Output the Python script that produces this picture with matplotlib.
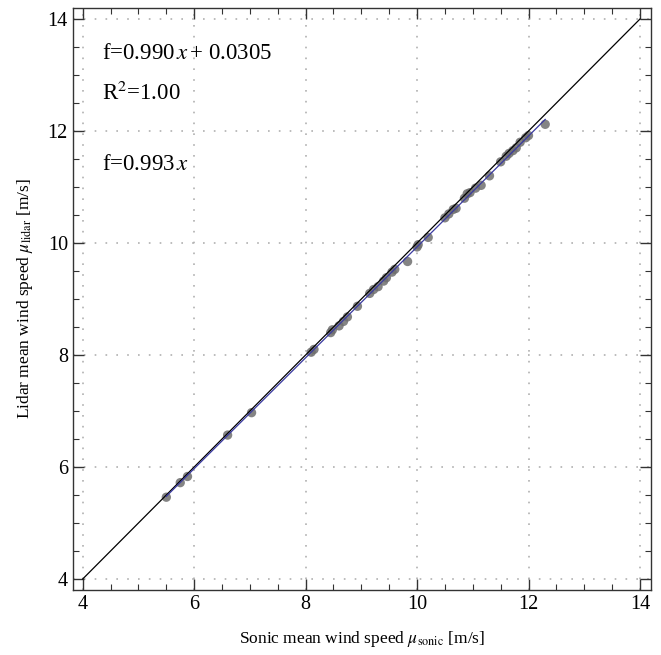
import numpy as np
import matplotlib
matplotlib.use('Agg')
import matplotlib.pyplot as plt
from matplotlib.ticker import MultipleLocator

plt.rcParams['font.family'] = ['Liberation Serif', 'DejaVu Serif']
plt.rcParams['mathtext.fontset'] = 'stix'

# sonic vs lidar 10-min mean wind speeds
sonic = [5.50, 5.75, 5.88, 6.60, 7.03, 8.10, 8.15, 8.45, 8.48, 8.60, 8.68, 8.75,
         8.93, 9.15, 9.22, 9.30, 9.40, 9.45, 9.55, 9.60, 9.83, 10.00, 10.02, 10.20,
         10.50, 10.57, 10.65, 10.70, 10.85, 10.90, 10.95, 11.05, 11.15, 11.30,
         11.50, 11.60, 11.65, 11.72, 11.78, 11.85, 11.95, 12.00, 12.30]
lidar = [5.46, 5.72, 5.83, 6.57, 6.97, 8.05, 8.10, 8.40, 8.45, 8.52, 8.60, 8.68,
         8.87, 9.10, 9.17, 9.22, 9.32, 9.38, 9.48, 9.53, 9.67, 9.93, 9.97, 10.10,
         10.45, 10.52, 10.60, 10.62, 10.80, 10.88, 10.90, 10.98, 11.03, 11.20,
         11.45, 11.55, 11.60, 11.65, 11.70, 11.80, 11.88, 11.92, 12.12]
slope, offset = 0.990, 0.0305
slope0 = 0.993
ref_line = [4, 14]

fig = plt.figure(figsize=(6.61, 6.55), dpi=100)
ax = fig.add_axes([0.110, 0.099, 0.875, 0.889])

ax.plot(ref_line, ref_line, color='black', lw=0.9, zorder=3)
ax.scatter(sonic, lidar, s=45, color='#6e6e6e', alpha=0.85, edgecolors='none', zorder=2)
xs = np.array([min(sonic), max(sonic)])
ax.plot(xs, slope * xs + offset, color='#3a3aa0', lw=0.9, zorder=4)

ax.set_xlim(3.82, 14.2)
ax.set_ylim(3.8, 14.2)
for axis in (ax.xaxis, ax.yaxis):
    axis.set_major_locator(MultipleLocator(2))
    axis.set_minor_locator(MultipleLocator(0.5))
ax.tick_params(which='both', direction='in', top=True, right=True, labelsize=14.5,
               color='#333333')
ax.tick_params(which='major', length=8, width=1)
ax.tick_params(which='minor', length=4, width=0.8)
ax.grid(True, which='major', color='#b0b0b0', linestyle=(0, (1, 5.5)), lw=1.2)
for sp in ax.spines.values():
    sp.set_color('#333333')
    sp.set_linewidth(1)

ax.set_xlabel(r'Sonic mean wind speed $\mu_{\rm sonic}$ [m/s]', fontsize=12.5, labelpad=11)
ax.set_ylabel(r'Lidar mean wind speed $\mu_{\rm lidar}$ [m/s]', fontsize=12.5, labelpad=9)

ax.text(4.34, 13.38, r'f=%.3f$\,x\,$+ %.4f' % (slope, offset), fontsize=16.5, va='center')
ax.text(4.34, 12.68, r'R$^2$=1.00', fontsize=16.5, va='center')
ax.text(4.34, 11.41, r'f=%.3f$\,x$' % slope0, fontsize=16.5, va='center')

fig.savefig('out.png', dpi=100)
